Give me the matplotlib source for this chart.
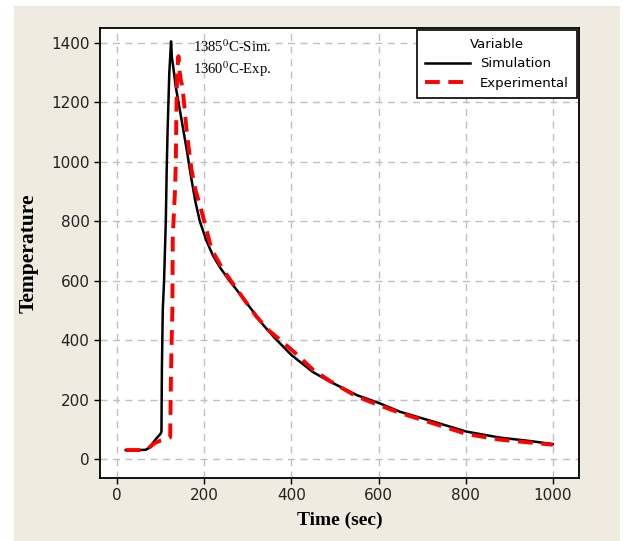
import matplotlib
matplotlib.use("Agg")
import matplotlib.pyplot as plt
from matplotlib.patches import Rectangle

sim_time = [20, 50, 66, 72, 80, 91, 100, 102, 103, 105, 108, 112, 114, 116, 118, 120, 122, 124, 126, 129, 135, 140, 152, 160, 167, 171, 180, 190, 205, 220, 236, 258, 282, 300, 336, 360, 400, 450, 489, 550, 603, 649, 725, 802, 878, 950, 1000]
sim_temp = [30, 30, 31, 36, 50, 70, 85, 92, 300, 500, 600, 800, 970, 1100, 1200, 1300, 1350, 1405, 1350, 1320, 1250, 1210, 1108, 1040, 975, 940, 865, 800, 735, 685, 645, 600, 555, 520, 450, 410, 350, 292, 260, 215, 187, 159, 126, 92, 72, 60, 50]

exp_time = [20, 60, 72, 87, 100, 114, 121, 122, 124, 127, 128, 133, 135, 136, 138, 141, 144, 147, 150, 155, 160, 171, 180, 191, 202, 217, 240, 261, 290, 320, 350, 375, 410, 450, 489, 550, 603, 649, 725, 802, 878, 950, 1000]
exp_temp = [30, 30, 36, 54, 62, 68, 72, 75, 300, 500, 750, 900, 1000, 1150, 1300, 1355, 1300, 1270, 1255, 1180, 1100, 973, 905, 850, 790, 705, 645, 600, 540, 479, 430, 400, 355, 300, 262, 210, 180, 155, 120, 84, 65, 55, 48]

x_ticks = [0, 200, 400, 600, 800, 1000]
y_ticks = [0, 200, 400, 600, 800, 1000, 1200, 1400]

plt.rcParams['mathtext.fontset'] = 'stix'

fig = plt.figure(figsize=(6.27, 5.41), dpi=100)
fig.patch.set_facecolor('white')
bg = Rectangle((14/627, 0), (620-14)/627, (541-6)/541,
               transform=fig.transFigure, facecolor='#efebe0',
               edgecolor='none', zorder=-10)
fig.add_artist(bg)

ax = fig.add_axes([100/627, 1-478/541, (579-100)/627, (478-28)/541])
ax.set_zorder(1)
ax.set_facecolor('white')

ax.plot(sim_time, sim_temp, color='black', lw=1.8, label='Simulation', zorder=3)
ax.plot(exp_time, exp_temp, color='red', lw=2.8, ls=(0, (3.8, 2.2)), label='Experimental', zorder=4)

ax.set_xlim(-39, 1060)
ax.set_ylim(-64, 1450)
ax.set_xticks(x_ticks)
ax.set_yticks(y_ticks)
ax.grid(True, color='#c0c0c0', ls=(0, (5, 4)), lw=1.0)
ax.set_axisbelow(True)
ax.tick_params(direction='out', length=4, width=1, labelsize=11, colors='black', labelcolor='#222222')
for s in ax.spines.values():
    s.set_linewidth(1.3)
    s.set_color('black')

ax.set_xlabel('Time (sec)', family='Liberation Serif', fontweight='bold', fontsize=14, labelpad=6)
ax.set_ylabel('Temperature', family='Liberation Serif', fontweight='bold', fontsize=15.5, labelpad=9)

ax.text(174, 1387, '1385$^{0}$C-Sim.', family='Liberation Serif', fontsize=10.5, va='center', ha='left')
ax.text(174, 1310, '1360$^{0}$C-Exp.', family='Liberation Serif', fontsize=10.5, va='center', ha='left')

leg = ax.legend(title='Variable', loc='upper right', fontsize=9.5, title_fontsize=9.5,
                fancybox=False, framealpha=1, edgecolor='black', borderaxespad=0.15,
                handlelength=3.4, borderpad=0.6, labelspacing=0.5)
leg.get_frame().set_linewidth(1.2)

fig.savefig('out.png', dpi=100)
